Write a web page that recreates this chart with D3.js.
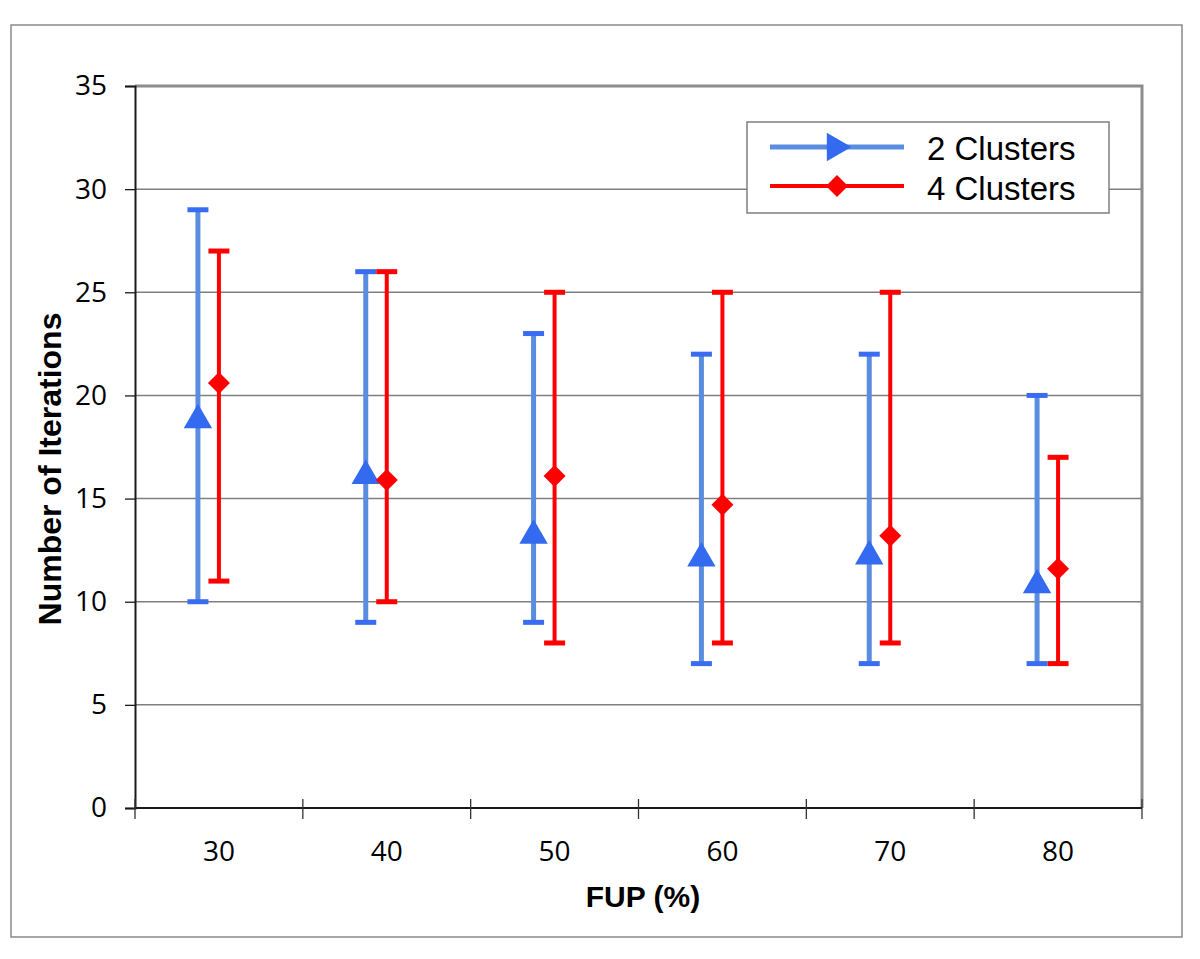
<!DOCTYPE html>
<html>
<head>
<meta charset="utf-8">
<script src="https://cdn.jsdelivr.net/npm/d3@7"></script>
<style>
body { margin: 0; background: #fff; }
.tickText { font-family: "Open Sans", sans-serif; font-size: 28px; fill: #000; }
.legendText { font-family: "Liberation Sans", Arial, sans-serif; font-size: 33px; fill: #000; }
.axisTitle { font-family: "Liberation Sans", Arial, sans-serif; font-weight: bold; fill: #000; }
</style>
</head>
<body>
<div id="chart"></div>
<script>
var width = 1200;
var height = 959;

// FUP categories
var fup = [30, 40, 50, 60, 70, 80];
// 2 clusters: mean, min, max iterations
var twoMean = [18.9, 16.2, 13.3, 12.2, 12.3, 10.9];
var twoMin = [10, 9, 9, 7, 7, 7];
var twoMax = [29, 26, 23, 22, 22, 20];
// 4 clusters
var fourMean = [20.6, 15.9, 16.1, 14.7, 13.2, 11.6];
var fourMin = [11, 10, 8, 8, 8, 7];
var fourMax = [27, 26, 25, 25, 25, 17];
var yTicks = [0, 5, 10, 15, 20, 25, 30, 35];

var plotLeft = 135;
var plotRight = 1142;
var plotTop = 86;
var plotBottom = 808;

var svg = d3
.select("#chart")
.append("svg")
.attr("width", width)
.attr("height", height);

// outer frame
svg.append("rect")
.attr("x", 11)
.attr("y", 25)
.attr("width", 1171)
.attr("height", 912)
.attr("fill", "#fff")
.attr("stroke", "#8a8a8a")
.attr("stroke-width", 1.5);

var xScale = d3.scaleBand().domain(fup).range([plotLeft, plotRight]);
var yScale = d3.scaleLinear().domain([0, 35]).range([plotBottom, plotTop]);

// gridlines
svg.append("g")
.selectAll("line")
.data(yTicks.filter(function(d) { return d > 0 && d < 35; }))
.enter()
.append("line")
.attr("x1", plotLeft)
.attr("x2", plotRight)
.attr("y1", function(d) { return yScale(d); })
.attr("y2", function(d) { return yScale(d); })
.attr("stroke", "#7f7f7f")
.attr("stroke-width", 1.5);

// top and right border of plot area
svg.append("path")
.attr("d", "M" + plotLeft + "," + plotTop + "H" + plotRight + "V" + plotBottom)
.attr("fill", "none")
.attr("stroke", "#8c8c8c")
.attr("stroke-width", 3);

// y axis
var yAxis = d3.axisLeft(yScale).tickValues(yTicks).tickSize(10).tickPadding(18);
var yG = svg.append("g")
.attr("transform", "translate(" + plotLeft + ",0)")
.call(yAxis);
yG.select(".domain").attr("stroke", "#1a1a1a").attr("stroke-width", 2);
yG.selectAll(".tick line").attr("stroke", "#1a1a1a").attr("stroke-width", 1.3);
yG.selectAll(".tick text").attr("class", "tickText").attr("font-size", null).attr("font-family", null);

// x axis, ticks sit on the band edges
var xEdges = fup.map(function(d) { return xScale(d); }).concat([plotRight]);
svg.append("line")
.attr("x1", plotLeft)
.attr("x2", plotRight)
.attr("y1", plotBottom)
.attr("y2", plotBottom)
.attr("stroke", "#1a1a1a")
.attr("stroke-width", 2);
svg.append("g")
.selectAll("line")
.data(xEdges)
.enter()
.append("line")
.attr("x1", function(d) { return d; })
.attr("x2", function(d) { return d; })
.attr("y1", plotBottom - 9)
.attr("y2", plotBottom + 11)
.attr("stroke", "#333")
.attr("stroke-width", 1.3);
svg.append("g")
.selectAll("text")
.data(fup)
.enter()
.append("text")
.attr("class", "tickText")
.attr("x", function(d) { return xScale(d) + xScale.bandwidth() / 2; })
.attr("y", 861)
.attr("text-anchor", "middle")
.text(function(d) { return d; });

// axis titles
svg.append("text")
.attr("class", "axisTitle")
.attr("x", 643)
.attr("y", 907)
.attr("text-anchor", "middle")
.attr("font-size", 30)
.text("FUP (%)");
svg.append("text")
.attr("class", "axisTitle")
.attr("transform", "translate(61,469)rotate(-90)")
.attr("text-anchor", "middle")
.attr("font-size", 32)
.text("Number of Iterations");

var series = [
{ name: "2 Clusters", mean: twoMean, lo: twoMin, hi: twoMax, dx: -21, line: "#5a8ddf", cap: "#3a6cf2", mark: "#336af0", width: 5 },
{ name: "4 Clusters", mean: fourMean, lo: fourMin, hi: fourMax, dx: 0, line: "#ff0000", cap: "#ff0000", mark: "#ff0000", width: 4 }
];

var triangle = d3.symbol().type(d3.symbolTriangle).size(350);
var diamond = "M0,-11L11,0L0,11L-11,0Z";

series.forEach(function(s, si) {
var g = svg.append("g");
var cx = function(i) { return xScale(fup[i]) + xScale.bandwidth() / 2 + s.dx; };
var idx = d3.range(fup.length);

g.selectAll(".bar")
.data(idx)
.enter()
.append("line")
.attr("x1", cx)
.attr("x2", cx)
.attr("y1", function(i) { return yScale(s.hi[i]); })
.attr("y2", function(i) { return yScale(s.lo[i]); })
.attr("stroke", s.line)
.attr("stroke-width", s.width);

["hi", "lo"].forEach(function(k) {
g.selectAll(".cap" + k)
.data(idx)
.enter()
.append("line")
.attr("x1", function(i) { return cx(i) - 10.5; })
.attr("x2", function(i) { return cx(i) + 10.5; })
.attr("y1", function(i) { return yScale(s[k][i]); })
.attr("y2", function(i) { return yScale(s[k][i]); })
.attr("stroke", s.cap)
.attr("stroke-width", 5);
});

g.selectAll(".mark")
.data(idx)
.enter()
.append("path")
.attr("d", si === 0 ? triangle() : diamond)
.attr("transform", function(i) {
var yy = yScale(s.mean[i]) + (si === 0 ? 2 : 0);
return "translate(" + cx(i) + "," + yy + ")";
})
.attr("fill", s.mark);
});

// legend
var legend = svg.append("g");
legend.append("rect")
.attr("x", 747)
.attr("y", 122)
.attr("width", 362)
.attr("height", 91)
.attr("fill", "#fff")
.attr("stroke", "#7f7f7f")
.attr("stroke-width", 1.5);

series.forEach(function(s, si) {
var ly = 147 + si * 39;
legend.append("line")
.attr("x1", 770)
.attr("x2", 904)
.attr("y1", ly)
.attr("y2", ly)
.attr("stroke", s.line)
.attr("stroke-width", s.width);
legend.append("path")
.attr("d", si === 0 ? triangle() : diamond)
.attr("transform", si === 0 ? "translate(835," + ly + ")rotate(90)" : "translate(837," + ly + ")")
.attr("fill", s.mark);
legend.append("text")
.attr("class", "legendText")
.attr("x", 927)
.attr("y", 160 + si * 40)
.text(s.name);
});
</script>
</body>
</html>
